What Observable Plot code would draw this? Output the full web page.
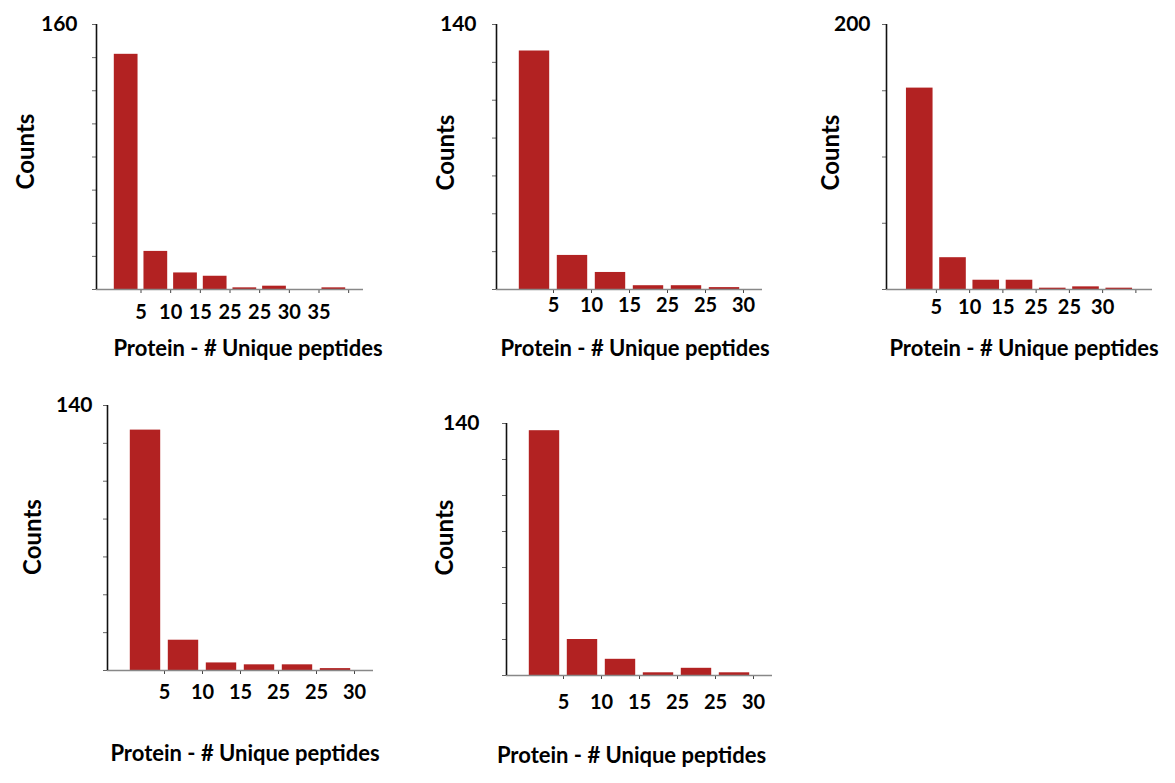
<!DOCTYPE html>
<html>
<head>
<meta charset="utf-8">
<script src="https://cdn.jsdelivr.net/npm/d3@7"></script>
<script src="https://cdn.jsdelivr.net/npm/@observablehq/plot@0.6"></script>
<style>
  html, body { margin: 0; padding: 0; background: #fff; }
  #wrap { position: relative; width: 1175px; height: 783px; background: #fff; overflow: hidden; }
  #wrap svg { position: absolute; }
</style>
</head>
<body>
<div id="wrap"></div>
<script>
// ---- data ----
const counts1 = [142, 23, 10, 8, 1, 2, 0, 1];
const labels1 = ["5", "10", "15", "25", "25", "30", "35"];
const counts2 = [126, 18, 9, 2, 2, 1];
const labels2 = ["5", "10", "15", "25", "25", "30"];
const counts3 = [152, 24, 7, 7, 1, 2, 1];
const labels3 = ["5", "10", "15", "25", "25", "30"];
const counts4 = [127, 16, 4, 3, 3, 1];
const labels4 = ["5", "10", "15", "25", "25", "30"];
const counts5 = [136, 20, 9, 1.5, 4, 1.5];
const labels5 = ["5", "10", "15", "25", "25", "30"];
const yMax = [160, 140, 200, 140, 140];
const yStep = [20, 20, 50, 20, 20];
const yTitle = "Counts";
const xTitle = "Protein - # Unique peptides";

// ---- layout of each panel ----
const panels = [
  {counts: counts1, labels: labels1, left: 0,   top: 0,   width: 400, height: 370, mL: 96,  mR: 37, mT: 24, mB: 81,  yPad: 15, xPad: 11,   cDx: -70, cDy: -5.5, tDx: 18,  tDy: 59},
  {counts: counts2, labels: labels2, left: 420, top: 0,   width: 380, height: 370, mL: 76,  mR: 38, mT: 24, mB: 81,  yPad: 16, xPad: 4,    cDx: -50, cDy: -4.5, tDx: 5.5, tDy: 59},
  {counts: counts3, labels: labels3, left: 800, top: 0,   width: 375, height: 370, mL: 86,  mR: 23, mT: 24, mB: 81,  yPad: 12, xPad: 6,    cDx: -55, cDy: -4.5, tDx: 4.5, tDy: 59},
  {counts: counts4, labels: labels4, left: 0,   top: 390, width: 400, height: 393, mL: 107, mR: 27, mT: 15, mB: 113, yPad: 11, xPad: 10.5, cDx: -74, cDy: -1,   tDx: 4.5, tDy: 83},
  {counts: counts5, labels: labels5, left: 420, top: 400, width: 380, height: 383, mL: 86,  mR: 28, mT: 23, mB: 108, yPad: 23, xPad: 15,   cDx: -61, cDy: -12,  tDx: -8,  tDy: 80}
];

const barColor = "#B22222";
const font = "Lato, 'Open Sans', sans-serif";
const wrap = document.getElementById("wrap");

panels.forEach((p, k) => {
  const n = p.counts.length;
  const data = p.counts.map((c, j) => ({i: j + 1, count: c}));
  const xTicks = d3.range(1, n + 1).map(i => i + 0.5);
  const yTicks = d3.range(0, yMax[k] + yStep[k] / 2, yStep[k]);
  const chart = Plot.plot({
    width: p.width,
    height: p.height,
    marginLeft: p.mL,
    marginRight: p.mR,
    marginTop: p.mT,
    marginBottom: p.mB,
    style: {fontFamily: font, color: "#000", background: "transparent", overflow: "visible"},
    x: {type: "linear", domain: [0, n + 1]},
    y: {type: "linear", domain: [0, yMax[k]]},
    marks: [
      Plot.rectY(data, {x1: d => d.i - 0.4, x2: d => d.i + 0.4, y: "count", fill: barColor}),
      Plot.axisY(yTicks, {
        anchor: "left", tickSize: 4, tickPadding: p.yPad, stroke: "#666",
        tickFormat: d => d === yMax[k] ? String(d) : "",
        fontSize: 21, fontWeight: "bold", label: null
      }),
      Plot.axisX(xTicks, {
        anchor: "bottom", tickSize: 4, tickPadding: p.xPad, stroke: "#444",
        tickFormat: d => p.labels[Math.round(d - 1.5)] ?? "",
        fontSize: 20, fontWeight: "bold", label: null
      }),
      Plot.ruleY([0], {stroke: "#888", strokeWidth: 1.6}),
      Plot.ruleX([0], {stroke: "#111", strokeWidth: 1.6}),
      Plot.text([yTitle], {frameAnchor: "left", dx: p.cDx, dy: p.cDy, rotate: -90, lineAnchor: "middle",
        fontSize: 24, fontWeight: "bold", fill: "#000", textAnchor: "middle"}),
      Plot.text([xTitle], {frameAnchor: "bottom", dx: p.tDx, dy: p.tDy, lineAnchor: "middle",
        fontSize: 22, fontWeight: "bold", fill: "#000", textAnchor: "middle"})
    ]
  });
  chart.style.left = p.left + "px";
  chart.style.top = p.top + "px";
  wrap.appendChild(chart);
});
</script>
</body>
</html>
